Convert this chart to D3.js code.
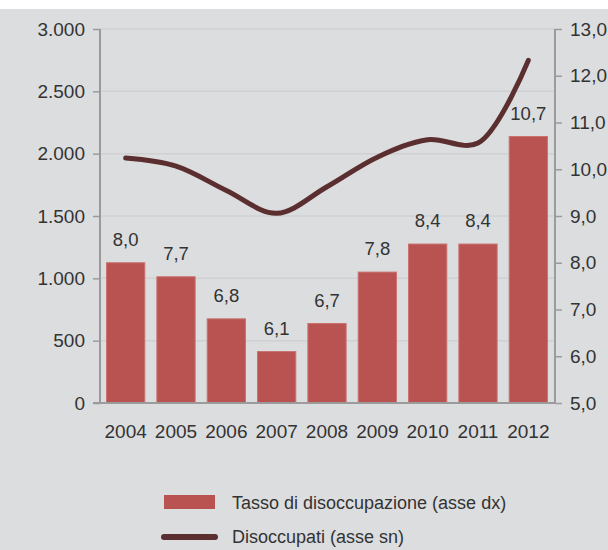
<!DOCTYPE html>
<html>
<head>
<meta charset="utf-8">
<script src="https://cdn.jsdelivr.net/npm/d3@7"></script>
<style>
  html, body { margin: 0; padding: 0; background: #ffffff; }
  svg { display: block; }
  text { font-family: "Liberation Sans", Arial, sans-serif; fill: #333333; }
</style>
</head>
<body>
<svg id="chart" width="608" height="550"></svg>
<script>
// Anni, tasso di disoccupazione (%) e disoccupati (migliaia)
const years = ["2004", "2005", "2006", "2007", "2008", "2009", "2010", "2011", "2012"];
const tasso = [8.0, 7.7, 6.8, 6.1, 6.7, 7.8, 8.4, 8.4, 10.7];
const disoccupati = [1965, 1900, 1705, 1522, 1735, 1972, 2112, 2085, 2748];
const leftTicks = [0, 500, 1000, 1500, 2000, 2500, 3000];
const rightTicks = [5, 6, 7, 8, 9, 10, 11, 12, 13];
const legendLabels = ["Tasso di disoccupazione (asse dx)", "Disoccupati (asse sn)"];

const it = d3.formatLocale({ decimal: ",", thousands: ".", grouping: [3], currency: ["€", ""] });
const fmtInt = it.format(",.0f");
const fmt1 = it.format(".1f");

const svg = d3.select("#chart");
const W = 608, H = 550;
const plot = { left: 100, right: 555, top: 29, bottom: 403 };

const barColor = "#b95351";
const lineColor = "#5b2f2f";
const axisColor = "#9b9b9b";

// background panel below a thin white band
svg.append("rect").attr("x", 0).attr("y", 0).attr("width", W).attr("height", H).attr("fill", "#ffffff");
svg.append("rect").attr("x", 0).attr("y", 9).attr("width", W).attr("height", H - 9).attr("fill", "#dcdddf");

const x = d3.scaleBand().domain(years).range([plot.left, plot.right - 1])
  .paddingInner(0.24).paddingOuter(0.13);
const yL = d3.scaleLinear().domain([0, 3000]).range([plot.bottom, plot.top]);
const yR = d3.scaleLinear().domain([5, 13]).range([plot.bottom, plot.top]);

// gridlines
svg.append("g")
  .selectAll("line").data(leftTicks.filter(d => d > 0)).join("line")
  .attr("x1", plot.left).attr("x2", plot.right)
  .attr("y1", d => yL(d)).attr("y2", d => yL(d))
  .attr("stroke", "#cfd0d2").attr("stroke-width", 1.5);

// bars (right axis)
svg.append("g")
  .selectAll("rect").data(years).join("rect")
  .attr("x", d => x(d)).attr("width", x.bandwidth())
  .attr("y", (d, i) => yR(tasso[i]))
  .attr("height", (d, i) => yR(5) - yR(tasso[i]))
  .attr("fill", barColor).attr("stroke", "#c87270").attr("stroke-width", 1);

// value labels
svg.append("g")
  .selectAll("text").data(years).join("text")
  .attr("x", d => x(d) + x.bandwidth() / 2)
  .attr("y", (d, i) => yR(tasso[i]) - 17)
  .attr("text-anchor", "middle").attr("font-size", 18.5)
  .text((d, i) => fmt1(tasso[i]));

// left axis
const leftAxis = d3.axisLeft(yL).tickValues(leftTicks).tickFormat(fmtInt).tickSize(7).tickPadding(8);
const gL = svg.append("g").attr("transform", `translate(${plot.left},0)`).call(leftAxis);
gL.select(".domain").attr("stroke", axisColor).attr("stroke-width", 2).attr("d", `M0,${plot.top}V${plot.bottom}`);
gL.selectAll(".tick line").attr("stroke", axisColor).attr("stroke-width", 1.5);
gL.selectAll(".tick text").attr("font-size", 19).attr("font-family", null).attr("fill", "#333");

// right axis
const rightAxis = d3.axisRight(yR).tickValues(rightTicks).tickFormat(fmt1).tickSize(7).tickPadding(8);
const gR = svg.append("g").attr("transform", `translate(${plot.right},0)`).call(rightAxis);
gR.select(".domain").attr("stroke", axisColor).attr("stroke-width", 2).attr("d", `M0,${plot.top}V${plot.bottom}`);
gR.selectAll(".tick line").attr("stroke", axisColor).attr("stroke-width", 1.5);
gR.selectAll(".tick text").attr("font-size", 19).attr("font-family", null).attr("fill", "#333");

// category axis
const bottomAxis = d3.axisBottom(x).tickSize(0).tickPadding(22);
const gB = svg.append("g").attr("transform", `translate(0,${plot.bottom})`).call(bottomAxis);
gB.select(".domain").attr("stroke", axisColor).attr("stroke-width", 2)
  .attr("d", `M${plot.left - 7},0H${plot.right}`);
gB.selectAll(".tick text").attr("font-size", 19).attr("font-family", null).attr("fill", "#333");

// line (left axis)
const line = d3.line()
  .x((d, i) => x(years[i]) + x.bandwidth() / 2)
  .y(d => yL(d))
  .curve(d3.curveCatmullRom.alpha(0.5));
svg.append("path").datum(disoccupati)
  .attr("d", line).attr("fill", "none")
  .attr("stroke", lineColor).attr("stroke-width", 5)
  .attr("stroke-linecap", "round").attr("stroke-linejoin", "round");

// legend
const lg = svg.append("g");
lg.append("rect").attr("x", 164).attr("y", 495).attr("width", 51).attr("height", 14).attr("fill", barColor);
lg.append("text").attr("x", 232).attr("y", 509).attr("font-size", 18).text(legendLabels[0]);
lg.append("line").attr("x1", 164).attr("x2", 215).attr("y1", 537).attr("y2", 537)
  .attr("stroke", lineColor).attr("stroke-width", 6).attr("stroke-linecap", "round");
lg.append("text").attr("x", 232).attr("y", 543).attr("font-size", 18).text(legendLabels[1]);
</script>
</body>
</html>
